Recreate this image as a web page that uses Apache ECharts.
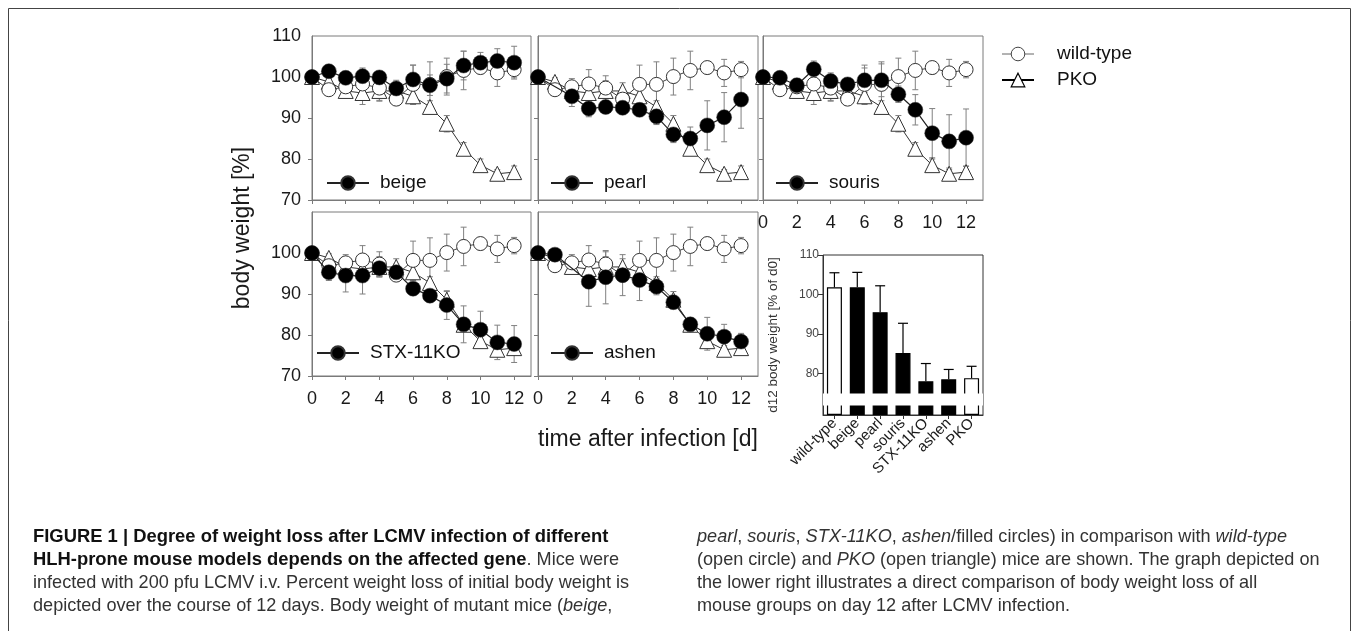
<!DOCTYPE html>
<html><head><meta charset="utf-8">
<script src="https://cdn.jsdelivr.net/npm/echarts@6/dist/echarts.min.js"></script>
<style>html,body{margin:0;padding:0;background:#fff}#c{width:1354px;height:631px}</style>
</head><body><div id="c"></div>
<script>
// ---------- data ----------
const days = [0,1,2,3,4,5,6,7,8,9,10,11,12];
const xTicks = [0,2,4,6,8,10,12];
const yTicks = [70,80,90,100,110];
const wildType    = [100, 96.9, 97.6, 98.3, 97.3, 94.6, 98.2, 98.2, 100.1, 101.6, 102.3, 101.0, 101.8];
const wildTypeErr = [0, 1.0, 2.0, 3.5, 3.0, 1.5, 4.7, 5.5, 4.5, 4.7, 1.5, 3.3, 2.0];
const pko         = [100, 98.8, 96.6, 96.1, 96.6, 96.6, 95.3, 92.7, 88.6, 82.5, 78.5, 76.4, 76.8];
const pkoErr      = [0, 1.0, 1.5, 2.8, 2.5, 2.0, 2.0, 1.5, 2.0, 1.5, 1.5, 1.0, 1.5];
const beige       = [100, 101.4, 99.8, 100.2, 99.9, 97.2, 99.4, 98.0, 99.6, 102.8, 103.5, 103.9, 103.5];
const beigeErr    = [0, 1.0, 1.5, 2.0, 1.5, 2.0, 3.5, 2.5, 3.5, 3.5, 2.5, 3.0, 4.0];
const pearl       = [100, '-', 95.3, 92.3, 92.7, 92.5, 92.0, 90.4, 86.0, 85.0, 88.2, 90.2, 94.5];
const pearlErr    = [0, 0, 2.5, 2.0, 1.5, 1.5, 1.5, 2.0, 2.0, 2.8, 6.0, 6.0, 7.0];
const souris      = [100, 99.8, 98.0, 101.9, 99.0, 98.2, 99.2, 99.2, 95.8, 92.0, 86.3, 84.3, 85.2];
const sourisErr   = [0, 1.0, 1.5, 2.0, 2.0, 1.5, 3.0, 4.0, 2.0, 3.7, 6.0, 6.5, 7.0];
const stx         = [100, 95.3, 94.5, 94.5, 96.3, 95.3, 91.3, 89.6, 87.3, 82.6, 81.3, 78.2, 77.8];
const stxErr      = [0, 2.0, 4.0, 4.5, 2.0, 2.0, 1.5, 1.5, 3.5, 4.5, 4.5, 4.2, 4.5];
const ashen       = [100, 99.6, '-', 93.0, 94.1, 94.6, 93.4, 91.8, 88.0, 82.6, 80.3, 79.6, 78.4];
const ashenErr    = [0, 1.5, 0, 6.0, 6.5, 5.0, 5.0, 2.0, 1.5, 1.5, 4.0, 3.0, 2.0];
const barCategories = ['wild-type','beige','pearl','souris','STX-11KO','ashen','PKO'];
const barValues     = [101.8, 101.8, 95.5, 85.2, 78.0, 78.5, 78.8];
const barErr        = [3.7, 3.8, 6.7, 7.5, 4.5, 2.5, 3.0];
const barTicks      = [80, 90, 100, 110];

// ---------- layout ----------
const panels = [
  {name:'beige',    vals:beige,  err:beigeErr,  grid:{left:312, top:36,  width:219, height:164}, xLab:false, yLab:yTicks, leg:{left:326, top:173}},
  {name:'pearl',    vals:pearl,  err:pearlErr,  grid:{left:538, top:36,  width:220, height:164}, xLab:false, yLab:null,   leg:{left:550, top:173}},
  {name:'souris',   vals:souris, err:sourisErr, grid:{left:763, top:36,  width:220, height:164}, xLab:true,  yLab:null,   leg:{left:775, top:173}},
  {name:'STX-11KO', vals:stx,    err:stxErr,    grid:{left:312, top:212, width:219, height:164}, xLab:true,  yLab:[70,80,90,100], leg:{left:316, top:343}},
  {name:'ashen',    vals:ashen,  err:ashenErr,  grid:{left:538, top:212, width:220, height:164}, xLab:true,  yLab:null,   leg:{left:550, top:343}}
];

const toXY = arr => days.map((d,i)=>[d, arr[i]]);
const toErr = (arr, err) => days.map((d,i)=> arr[i]==='-' ? null : [d, arr[i], err[i]]).filter(v=>v);

function errRender(capHalf, color, onlyUp, lw){
  return function(params, api){
    const x = api.value(0), y = api.value(1), e = api.value(2);
    if (!e) return null;
    const top = api.coord([x, y+e]);
    const bot = onlyUp ? api.coord([x, y]) : api.coord([x, y-e]);
    const st = {stroke: color, lineWidth: lw || 1};
    const ch = [
      {type:'line', shape:{x1:top[0], y1:top[1], x2:bot[0], y2:bot[1]}, style:st},
      {type:'line', shape:{x1:top[0]-capHalf, y1:top[1], x2:top[0]+capHalf, y2:top[1]}, style:st}
    ];
    if (!onlyUp) ch.push({type:'line', shape:{x1:bot[0]-capHalf, y1:bot[1], x2:bot[0]+capHalf, y2:bot[1]}, style:st});
    return {type:'group', children: ch};
  };
}

const font = 'Liberation Sans, Arial, sans-serif';
const grids = [], xAxes = [], yAxes = [], series = [], legends = [];
const axisGray = '#7a7a7a';
panels.forEach((p, i) => {
  grids.push(Object.assign({show:true, borderColor:axisGray, borderWidth:1, backgroundColor:'transparent'}, p.grid));
  xAxes.push({
    type:'value', gridIndex:i, min:0, max:13,
    axisLine:{show:true, lineStyle:{color:axisGray, width:1}},
    axisTick:{show:true, inside:false, length:4, customValues:xTicks, lineStyle:{color:axisGray}},
    axisLabel:{show:p.xLab, customValues:xTicks, margin:14, fontSize:18, color:'#1a1a1a', fontFamily:font},
    splitLine:{show:false}
  });
  yAxes.push({
    type:'value', gridIndex:i, min:70, max:110, interval:10,
    axisLine:{show:true, lineStyle:{color:axisGray, width:1}},
    axisTick:{show:true, length:4, customValues:[70,80,90,100], lineStyle:{color:axisGray}},
    axisLabel:p.yLab ? {show:true, customValues:p.yLab, margin:11, fontSize:18, color:'#1a1a1a', fontFamily:font} : {show:false},
    splitLine:{show:false}
  });
  const base = {xAxisIndex:i, yAxisIndex:i, animation:false, silent:true};
  series.push(Object.assign({type:'custom', name:'wt-err-'+i, data:toErr(wildType, wildTypeErr), renderItem:errRender(3, '#808080', false), z:1}, base));
  series.push(Object.assign({type:'custom', name:'pko-err-'+i, data:toErr(pko, pkoErr), renderItem:errRender(3, '#808080', false), z:1}, base));
  series.push(Object.assign({type:'custom', name:'mut-err-'+i, data:toErr(p.vals, p.err), renderItem:errRender(3, '#808080', false), z:1}, base));
  series.push(Object.assign({type:'line', name:'PKO', data:toXY(pko), symbol:'triangle', symbolSize:15,
    itemStyle:{color:'#fff', borderColor:'#333', borderWidth:1}, lineStyle:{color:'#333', width:1}, z:2}, base));
  series.push(Object.assign({type:'line', name:'wild-type', data:toXY(wildType), symbol:'circle', symbolSize:14,
    itemStyle:{color:'#fff', borderColor:'#333', borderWidth:1}, lineStyle:{color:'#444', width:1}, z:3}, base));
  series.push(Object.assign({type:'line', name:p.name, data:toXY(p.vals), connectNulls:true, symbol:'circle', symbolSize:15,
    itemStyle:{color:'#000', borderColor:'#333', borderWidth:0.5}, lineStyle:{color:'#222', width:1.2}, z:4}, base));
  legends.push({data:[p.name], left:p.leg.left, top:p.leg.top, padding:0, itemWidth:42, itemHeight:17, selectedMode:false,
    textStyle:{fontSize:19, color:'#111', lineHeight:20, padding:[0,0,0,6], fontFamily:font}});
});

// bar chart
grids.push({left:823, top:255, width:160, height:160, show:true, borderColor:'#333', borderWidth:1});
xAxes.push({type:'category', gridIndex:5, data:barCategories, boundaryGap:true,
  axisLine:{show:true, lineStyle:{color:'#333'}},
  axisTick:{show:true, alignWithLabel:true, length:4, lineStyle:{color:'#333'}},
  axisLabel:{rotate:45, margin:6, fontSize:15, color:'#1a1a1a', interval:0, fontFamily:font}});
yAxes.push({type:'value', gridIndex:5, min:0, max:110,
  breaks:[{start:2.5, end:75, gap:'7.5%'}],
  breakArea:{show:true, zigzagAmplitude:0, zigzagZ:100, expandOnClick:false,
    itemStyle:{color:'#fff', borderColor:'#fff', borderWidth:0, opacity:1}},
  axisLine:{show:true, lineStyle:{color:'#333'}},
  axisTick:{show:true, length:5, customValues:barTicks, lineStyle:{color:'#333'}},
  axisLabel:{customValues:barTicks, fontSize:12, color:'#444', margin:4, fontFamily:font},
  splitLine:{show:false},
  name:'d12 body weight [% of d0]', nameLocation:'middle', nameGap:43, nameRotate:90,
  nameTextStyle:{fontSize:13.5, color:'#333', fontFamily:font}});
series.push({type:'bar', xAxisIndex:5, yAxisIndex:5, barWidth:15, silent:true, animation:false, z:2,
  data: barValues.map((v,i)=>({value:v, itemStyle:{color:(i===0||i===6)?'#fff':'#000', borderColor:'#000', borderWidth:1.2}}))});
series.push({type:'custom', xAxisIndex:5, yAxisIndex:5, silent:true, animation:false, z:3,
  data: barValues.map((v,i)=>[i, v, barErr[i]]), renderItem: errRender(5, '#000', true, 1.2)});

legends.push({orient:'vertical', left:1001, top:44, padding:0, itemWidth:32, itemHeight:17, itemGap:6, selectedMode:false,
  data:[
    {name:'wild-type', lineStyle:{color:'#666', width:1}, itemStyle:{color:'#fff', borderColor:'#444', borderWidth:1}},
    {name:'PKO', lineStyle:{color:'#000', width:2}, itemStyle:{color:'#fff', borderColor:'#000', borderWidth:1.2}}
  ],
  textStyle:{fontSize:19, color:'#111', lineHeight:20, padding:[0,0,0,18], fontFamily:font}});

// caption
const capRich = {
  b:{fontWeight:'bold', fontSize:18.4, fontFamily:font, fill:'#111'},
  r:{fontSize:18.1, fontFamily:font, fill:'#333'},
  i:{fontStyle:'italic', fontSize:18.1, fontFamily:font, fill:'#333'}
};
const capLines = [
  [33, 537, '{b|FIGURE 1 | Degree of weight loss after LCMV infection of different}'],
  [33, 560, '{b|HLH-prone mouse models depends on the affected gene}{r|. Mice were}'],
  [33, 583, '{r|infected with 200 pfu LCMV i.v. Percent weight loss of initial body weight is}'],
  [33, 606, '{r|depicted over the course of 12 days. Body weight of mutant mice (}{i|beige}{r|,}'],
  [697, 537, '{i|pearl}{r|, }{i|souris}{r|, }{i|STX-11KO}{r|, }{i|ashen}{r|/filled circles) in comparison with }{i|wild-type}'],
  [697, 560, '{r|(open circle) and }{i|PKO}{r| (open triangle) mice are shown. The graph depicted on}'],
  [697, 583, '{r|the lower right illustrates a direct comparison of body weight loss of all}'],
  [697, 606, '{r|mouse groups on day 12 after LCMV infection.}']
];
const graphic = [
  {type:'rect', shape:{x:8.5, y:8.5, width:1342, height:640}, style:{fill:'none', stroke:'#444', lineWidth:1}, silent:true, z:-10},
  {type:'text', x:243, y:228, rotation:Math.PI/2, style:{text:'body weight [%]', fontSize:23, fontFamily:font, fill:'#1a1a1a', textAlign:'center', textVerticalAlign:'middle'}},
  {type:'text', x:648, y:440, style:{text:'time after infection [d]', fontSize:23, fontFamily:font, fill:'#1a1a1a', textAlign:'center', textVerticalAlign:'middle'}}
].concat(capLines.map(l => ({type:'text', x:l[0], y:l[1], style:{text:l[2], rich:capRich, textAlign:'left', textVerticalAlign:'middle'}})));

const chart = echarts.init(document.getElementById('c'), null, {renderer:'canvas'});
chart.setOption({animation:false, backgroundColor:'#fff', grid:grids, xAxis:xAxes, yAxis:yAxes, series:series, legend:legends, graphic:graphic});
</script></body></html>
